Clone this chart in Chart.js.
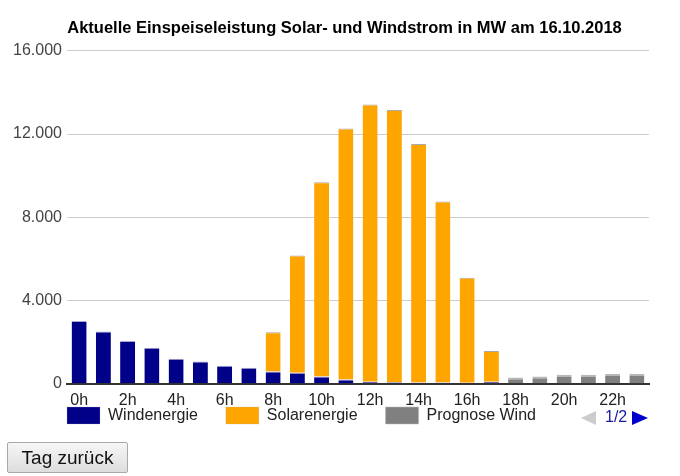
<!DOCTYPE html>
<html>
<head>
<meta charset="utf-8">
<script src="https://cdn.jsdelivr.net/npm/chart.js@4"></script>
<style>
  body { margin: 0; background: #fff; font-family: Arial, "Liberation Sans", sans-serif; }
  #wrap { position: relative; width: 680px; height: 464px; }
  #pager { position: absolute; left: 581px; top: 409px; height: 16px; font-size: 16px; color: #1a1aa0; }
  .tri { position: absolute; top: 2px; width: 0; height: 0; border-top: 7px solid transparent; border-bottom: 7px solid transparent; }
  #prev { left: 0; border-right: 15px solid #cccccc; }
  #next { left: 51px; border-left: 16px solid #0000cc; }
  #pg { position: absolute; left: 24px; top: -1px; }
  #back { position: absolute; left: 7px; top: 442px; width: 121px; height: 31px; font-family: Arial, "Liberation Sans", sans-serif;
          font-size: 19px; color: #111; background: linear-gradient(#f6f6f6, #dddddd); border: 1px solid #a9a9a9; border-radius: 2px; padding: 0; }
</style>
</head>
<body>
<div id="wrap">
  <canvas id="chart" width="680" height="464"></canvas>
  <div id="pager"><div class="tri" id="prev"></div><span id="pg">1/2</span><div class="tri" id="next"></div></div>
</div>
<button id="back">Tag zurück</button>
<script>
const hours = ['0h','1h','2h','3h','4h','5h','6h','7h','8h','9h','10h','11h','12h','13h','14h','15h','16h','17h','18h','19h','20h','21h','22h','23h'];
const wind = [3020, 2510, 2060, 1730, 1200, 1070, 865, 770, 590, 530, 350, 205, 95, 80, 60, 60, 50, 95, null, null, null, null, null, null];
const solar = [null, null, null, null, null, null, null, null, 1890, 5630, 9330, 12065, 13325, 13070, 11460, 8705, 5040, 1475, null, null, null, null, null, null];
const prognose = [null, null, null, null, null, null, null, null, null, null, null, null, null, null, null, null, null, null, 300, 350, 430, 430, 480, 480];
const yTicks = [0, 4000, 8000, 12000, 16000];

function fmt(v) {
  return String(v).replace(/\B(?=(\d{3})+(?!\d))/g, '.');
}

// put the legend right under the axis labels, starting at the plot's left edge,
// and center the title a bit further right like the original
const legendPlace = {
  id: 'legendPlace',
  afterLayout(chart) {
    const lg = chart.legend;
    const h = lg.bottom - lg.top;
    const w = lg.right - lg.left;
    lg.left = 39; lg.right = 39 + w;
    lg.top = 379; lg.bottom = 379 + h;
    const t = chart.titleBlock;
    t.left += 20; t.right += 20;
  }
};

new Chart("chart", {
  type: "bar",
  data: {
    labels: hours,
    datasets: [
      { label: 'Windenergie', data: wind, backgroundColor: '#000088', borderColor: '#a8a8cc', borderWidth: { top: 1, left: 0, right: 0, bottom: 0 } },
      { label: 'Solarenergie', data: solar, backgroundColor: '#ffa500', borderColor: '#a9a9a9', borderWidth: { top: 1, left: 0, right: 0, bottom: 0 } },
      { label: 'Prognose Wind', data: prognose, backgroundColor: '#808080', borderColor: '#b8b8b8', borderWidth: { top: 2, left: 0, right: 0, bottom: 0 } }
    ]
  },
  options: {
    responsive: false,
    animation: false,
    devicePixelRatio: 1,
    layout: { padding: { left: 0, right: 31, top: 0, bottom: 0 } },
    datasets: { bar: { barPercentage: 0.62, categoryPercentage: 1, borderSkipped: false } },
    plugins: {
      title: {
        display: true,
        text: 'Aktuelle Einspeiseleistung Solar- und Windstrom in MW am 16.10.2018',
        color: '#000',
        font: { family: 'Arial, "Liberation Sans"', size: 16.5, weight: 'bold' },
        padding: { top: 19, bottom: 12 }
      },
      legend: {
        position: 'bottom',
        align: 'start',
        labels: {
          boxWidth: 33, boxHeight: 17, padding: 28, color: '#222',
          font: { family: 'Arial, "Liberation Sans"', size: 16 }
        }
      },
      tooltip: { enabled: false }
    },
    scales: {
      x: {
        stacked: true,
        grid: { display: false },
        border: { color: '#333', width: 2 },
        ticks: {
          autoSkip: false, maxRotation: 0, padding: -1, color: '#222',
          font: { family: 'Arial, "Liberation Sans"', size: 16 },
          callback: (v, i) => i % 2 === 0 ? hours[i] : ''
        }
      },
      y: {
        stacked: true,
        min: yTicks[0], max: yTicks[yTicks.length - 1],
        afterFit: s => { s.width = 67; },
        afterBuildTicks: s => { s.ticks = yTicks.map(v => ({ value: v })); },
        grid: { color: '#cccccc', drawTicks: false },
        border: { display: false },
        ticks: {
          padding: 5, color: '#444',
          font: { family: 'Arial, "Liberation Sans"', size: 16 },
          callback: v => fmt(v)
        }
      }
    }
  },
  plugins: [legendPlace]
});
</script>
</body>
</html>
